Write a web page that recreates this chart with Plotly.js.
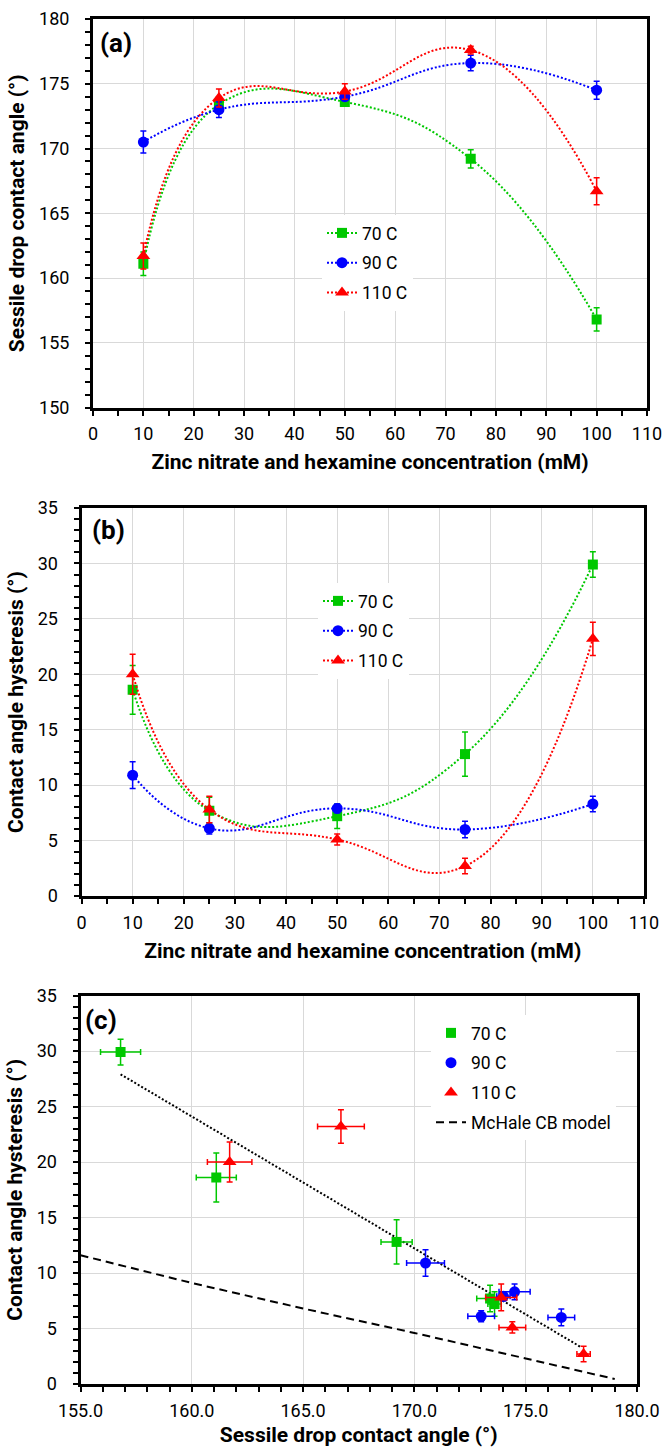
<!DOCTYPE html>
<html><head><meta charset="utf-8">
<script src="https://cdn.plot.ly/plotly-3.0.1.min.js"></script>
<style>html,body{margin:0;padding:0;background:#fff}</style>
</head><body><div id="chart" style="width:663px;height:1449px"></div>
<script>
// ---- data ----
const conc = [10, 25, 50, 75, 100];
const ca70 = [161.1, 173.4, 173.6, 169.2, 156.8];
const ca70Err = [0.9, 0.6, 0.3, 0.7, 0.9];
const ca90 = [170.5, 173.0, 174.0, 176.6, 174.5];
const ca90Err = [0.85, 0.6, 0.3, 0.6, 0.7];
const ca110 = [161.7, 173.9, 174.4, 177.6, 166.7];
const ca110Err = [1.0, 0.7, 0.6, 0.3, 1.05];
const hys70 = [18.6, 7.7, 7.2, 12.8, 29.9];
const hys70Err = [2.2, 1.2, 1.1, 2.0, 1.15];
const hys90 = [10.9, 6.1, 7.9, 6.0, 8.3];
const hys90Err = [1.2, 0.5, 0.4, 0.75, 0.7];
const hys110 = [20.0, 7.8, 5.1, 2.7, 23.2];
const hys110Err = [1.8, 1.2, 0.5, 0.7, 1.5];
const trendX = [156.8, 177.5];
const trendY = [27.9, 3.3];
const mchaleX = [155, 160, 165, 170, 175, 179];
const mchaleY = [11.6, 9.1, 6.8, 4.6, 2.3, 0.45];
const seriesNames = ['70 C', '90 C', '110 C'];

// ---- styling ----
const W = 663, H = 1449;
const GREEN = '#00c800', BLUE = '#0000ff', RED = '#ff0000';
const colors = [GREEN, BLUE, RED];
const symbols = ['square', 'circle', 'triangle-up'];
const msizes = [10, 11, 12];
const FONT = 'Roboto, "Open Sans", sans-serif';
const TICK_SIZE = 18, TITLE_SIZE = 21, LEG_SIZE = 17.5;
const DOT = '2px,2px';
const px = v => v / W;
const py = v => 1 - v / H;

const caSets = [[ca70, ca70Err], [ca90, ca90Err], [ca110, ca110Err]];
const hySets = [[hys70, hys70Err], [hys90, hys90Err], [hys110, hys110Err]];

const traces = [];
// panel a
caSets.forEach(([v, e], i) => traces.push({
  type: 'scatter', mode: 'lines+markers', x: conc, y: v, name: seriesNames[i],
  xaxis: 'x', yaxis: 'y', legend: 'legend', legendgroup: 'a' + i,
  line: {shape: 'spline', smoothing: 1.3, dash: DOT, width: 2, color: colors[i]},
  marker: {symbol: symbols[i], size: msizes[i], color: colors[i]},
  error_y: {type: 'data', array: e, color: colors[i], thickness: 1.5, width: 3}
}));
// panel b
hySets.forEach(([v, e], i) => traces.push({
  type: 'scatter', mode: 'lines+markers', x: conc, y: v, name: seriesNames[i],
  xaxis: 'x2', yaxis: 'y2', legend: 'legend2', legendgroup: 'b' + i,
  line: {shape: 'spline', smoothing: 1.3, dash: DOT, width: 2, color: colors[i]},
  marker: {symbol: symbols[i], size: msizes[i], color: colors[i]},
  error_y: {type: 'data', array: e, color: colors[i], thickness: 1.5, width: 3}
}));
// panel c
traces.push({
  type: 'scatter', mode: 'lines', x: trendX, y: trendY, xaxis: 'x3', yaxis: 'y3',
  showlegend: false, line: {color: '#000', dash: DOT, width: 2}
});
caSets.forEach(([v, e], i) => traces.push({
  type: 'scatter', mode: 'markers', x: v, y: hySets[i][0], name: seriesNames[i],
  xaxis: 'x3', yaxis: 'y3', legend: 'legend3', legendgroup: 'c' + i,
  marker: {symbol: symbols[i], size: msizes[i], color: colors[i]},
  error_x: {type: 'data', array: e, color: colors[i], thickness: 1.5, width: 3},
  error_y: {type: 'data', array: hySets[i][1], color: colors[i], thickness: 1.5, width: 3}
}));
traces.push({
  type: 'scatter', mode: 'lines', x: mchaleX, y: mchaleY, name: 'McHale CB model',
  xaxis: 'x3', yaxis: 'y3', legend: 'legend3', legendgroup: 'c3',
  line: {color: '#000', dash: '8px,5px', width: 2}
});

function xax(domain, range, dtick, minor, title, fmt, standoff) {
  return {
    domain, range, dtick, tick0: range[0], tickformat: fmt || '',
    showline: true, linewidth: 3, linecolor: '#000', mirror: true,
    showgrid: true, gridcolor: '#d9d9d9', gridwidth: 1, zeroline: false,
    ticks: 'outside', ticklen: 5, tickwidth: 2, tickcolor: '#000',
    ticklabelstandoff: 3,
    minor: {dtick: minor, ticks: 'outside', ticklen: 5, tickwidth: 2, tickcolor: '#000', showgrid: false},
    tickfont: {family: FONT, size: TICK_SIZE, color: '#000'},
    title: {text: '<b>' + title + '</b>', font: {family: FONT, size: TITLE_SIZE, color: '#000'}, standoff: standoff},
    automargin: false, fixedrange: true
  };
}
function yax(domain, range, dtick, title) {
  return {
    domain, range, dtick, tick0: range[0],
    showline: true, linewidth: 3, linecolor: '#000', mirror: true,
    showgrid: true, gridcolor: '#d9d9d9', gridwidth: 1, zeroline: false,
    ticks: 'outside', ticklen: 5, tickwidth: 2, tickcolor: '#000',
    ticklabelstandoff: 12,
    minor: {dtick: 1, ticks: 'outside', ticklen: 5, tickwidth: 2, tickcolor: '#000', showgrid: false},
    tickfont: {family: FONT, size: TICK_SIZE, color: '#000'},
    title: {text: '<b>' + title + '</b>', font: {family: FONT, size: TITLE_SIZE, color: '#000'}, standoff: 9},
    automargin: false, fixedrange: true
  };
}
const xTitleAB = 'Zinc nitrate and hexamine concentration (mM)';
const xa = xax([px(93), px(647)], [0, 110], 10, 5, xTitleAB, '', 12);
xa.anchor = 'y';
const ya = yax([py(407.5), py(19)], [150, 180], 5, 'Sessile drop contact angle (°)');
ya.anchor = 'x';
const xb = xax([px(81.5), px(644)], [0, 110], 10, 5, xTitleAB, '', 12);
xb.anchor = 'y2';
const yb = yax([py(896), py(508)], [0, 35], 5, 'Contact angle hysteresis (°)');
yb.anchor = 'x2';
const xc = xax([px(80.5), px(637)], [155, 180], 5, 1, 'Sessile drop contact angle (°)', '.1f', 8);
xc.anchor = 'y3';
const yc = yax([py(1384), py(995.5)], [0, 35], 5, 'Contact angle hysteresis (°)');
yc.anchor = 'x3';

function leg(x, y) {
  return {x: px(x), y: py(y), xanchor: 'left', yanchor: 'top', bgcolor: '#fff',
    font: {family: FONT, size: LEG_SIZE, color: '#000'}, tracegroupgap: 4, itemwidth: 30,
    borderwidth: 0};
}
const panelLabel = (t, x, y) => ({text: '<b>' + t + '</b>', x: px(x), y: py(y), xref: 'paper', yref: 'paper',
  xanchor: 'center', yanchor: 'middle', showarrow: false, font: {family: FONT, size: 26, color: '#000'}});

const layout = {
  width: W, height: H, margin: {l: 0, r: 0, t: 0, b: 0},
  paper_bgcolor: '#fff', plot_bgcolor: '#fff', showlegend: true,
  xaxis: xa, yaxis: ya, xaxis2: xb, yaxis2: yb, xaxis3: xc, yaxis3: yc,
  legend: leg(322, 215), legend2: leg(318, 583), legend3: leg(431, 1015),
  annotations: [panelLabel('(a)', 116, 43), panelLabel('(b)', 108, 530), panelLabel('(c)', 101, 1020)]
};
Plotly.newPlot('chart', traces, layout, {staticPlot: true, displayModeBar: false});
</script>
</body></html>
